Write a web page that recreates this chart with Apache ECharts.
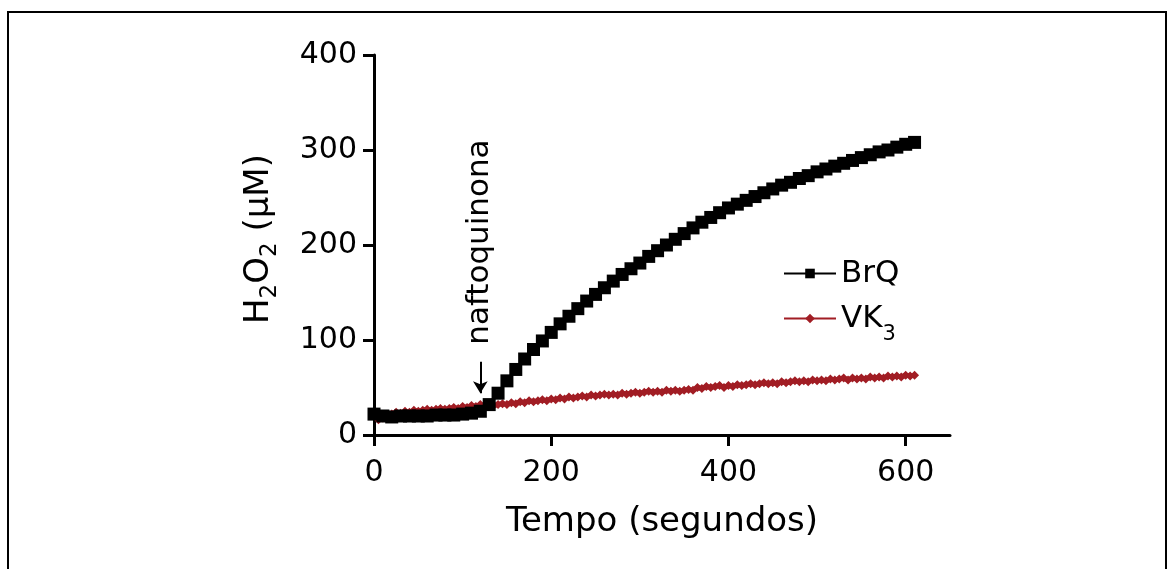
<!DOCTYPE html>
<html><head><meta charset="utf-8">
<script src="https://cdn.jsdelivr.net/npm/echarts@6/dist/echarts.min.js"></script>
<style>html,body{margin:0;padding:0;background:#fff}#c{width:1171px;height:569px}</style>
</head><body><div id="c"></div>
<script>
// ---- data ----
const brqTime = [0,10,20,30,40,50,60,70,80,90,100,110,120,130,140,150,160,170,180,190,200,210,220,230,240,250,260,270,280,290,300,310,320,330,340,350,360,370,380,390,400,410,420,430,440,450,460,470,480,490,500,510,520,530,540,550,560,570,580,590,600,610];
const brqValues = [22,20,19,20,20,20,20,21,21,21,22,23,25,32,44,57,69,80,90,99,108,117,125,133,141,148,155,162,169,175,181,188,194,200,206,212,218,224,229,234,239,243,247,251,255,259,263,266,270,273,277,280,283,286,289,292,295,298,300,303,306,308];
const vkTime = [5,10,15,20,25,30,35,40,45,50,55,60,65,70,75,80,85,90,95,100,105,110,115,120,125,130,135,140,145,150,155,160,165,170,175,180,185,190,195,200,205,210,215,220,225,230,235,240,245,250,255,260,265,270,275,280,285,290,295,300,305,310,315,320,325,330,335,340,345,350,355,360,365,370,375,380,385,390,395,400,405,410,415,420,425,430,435,440,445,450,455,460,465,470,475,480,485,490,495,500,505,510,515,520,525,530,535,540,545,550,555,560,565,570,575,580,585,590,595,600,605,610];
const vkValues = [16,18,21,22,24,23,25,24,26,25,26,27,26,27,28,27,28,29,28,30,29,31,30,32,31,33,31,32,33,32,34,33,35,34,36,35,36,37,36,38,37,39,38,40,39,40,41,40,42,41,42,43,42,43,42,44,43,44,45,44,45,46,45,46,45,47,46,47,46,47,48,47,50,49,51,50,51,52,50,52,51,53,52,53,54,53,54,55,54,55,54,56,55,56,57,56,57,56,58,57,58,57,59,58,59,60,58,60,59,60,59,61,60,61,60,62,61,62,61,63,62,63];
const xTicks = [0,200,400,600];
const yTicks = [0,100,200,300,400];
const seriesNames = ['BrQ','VK3'];
const xTitle = 'Tempo (segundos)';
const annotationText = 'naftoquinona';
const arrowFrom = [120, 77];
const arrowTo = [120, 44];
const annotationAnchor = [120, 95];

// ---- chart ----
const FONT = 'DejaVu Sans';
const chart = echarts.init(document.getElementById('c'), null, {renderer:'canvas'});
const zip = (a,b) => a.map((v,i)=>[v,b[i]]);
const option = {
  animation:false,
  backgroundColor:'#fff',
  grid:{left:374, top:55, right:221, bottom:134, containLabel:false},
  xAxis:{type:'value', min:0, max:650,
    axisLine:{show:true, onZero:false, lineStyle:{color:'#000', width:3}},
    axisTick:{show:true, length:11, customValues:xTicks, lineStyle:{color:'#000', width:3}},
    axisLabel:{customValues:xTicks, margin:23, color:'#000', fontFamily:FONT, fontSize:30},
    splitLine:{show:false},
    name:xTitle, nameLocation:'middle', nameGap:70,
    nameTextStyle:{color:'#000', fontFamily:FONT, fontSize:34}
  },
  yAxis:{type:'value', min:0, max:400, interval:100,
    axisLine:{show:true, lineStyle:{color:'#000', width:3}},
    axisTick:{show:true, length:11, lineStyle:{color:'#000', width:3}},
    axisLabel:{margin:17, color:'#000', fontFamily:FONT, fontSize:30},
    splitLine:{show:false},
    name:'{n|H}{s|2}{n|O}{s|2}{n| (μM)}', nameLocation:'middle', nameGap:98, nameRotate:90,
    nameTextStyle:{color:'#000', fontFamily:FONT, fontSize:34, padding:[0,0,0,12],
      rich:{n:{fontFamily:FONT, fontSize:34, color:'#000', verticalAlign:'bottom', lineHeight:40},
            s:{fontFamily:FONT, fontSize:23, color:'#000', verticalAlign:'bottom', lineHeight:40, padding:[0,0,-6,0]}}}
  },
  legend:{orient:'vertical', left:778, top:253, itemWidth:52, itemHeight:12, itemGap:14,
    data:seriesNames,
    formatter:n => n === 'VK3' ? '{n|VK}{s|3}' : '{n|BrQ}',
    textStyle:{color:'#000', fontFamily:FONT, fontSize:31,
      rich:{n:{fontFamily:FONT, fontSize:31, color:'#000', lineHeight:38},
            s:{fontFamily:FONT, fontSize:21, color:'#000', lineHeight:38, verticalAlign:'bottom', padding:[0,0,-8,0]}}}
  },
  series:[
    {name:'VK3', type:'line', data:zip(vkTime, vkValues), z:2,
      symbol:'diamond', symbolSize:9, showSymbol:true,
      itemStyle:{color:'#a11d24'}, lineStyle:{color:'#a11d24', width:5}},
    {name:'BrQ', type:'line', data:zip(brqTime, brqValues), z:3,
      symbol:'rect', symbolSize:13, showSymbol:true,
      itemStyle:{color:'#000'}, lineStyle:{color:'#000', width:2},
      markLine:{silent:true, symbol:['none','arrow'], symbolSize:[11,12],
        lineStyle:{color:'#000', width:2, type:'solid'}, label:{show:false},
        data:[[{coord:arrowFrom},{coord:arrowTo}]]}}
  ]
};
chart.setOption(option);
const p = chart.convertToPixel({gridIndex:0}, annotationAnchor);
chart.setOption({graphic:[
  {type:'rect', shape:{x:8, y:12, width:1158, height:600}, style:{fill:null, stroke:'#000', lineWidth:2}, silent:true},
  {type:'text', x:p[0], y:p[1], rotation:Math.PI/2,
    style:{text:annotationText, fill:'#000', font:'31px "DejaVu Sans"', align:'left', verticalAlign:'middle'}}
]});
</script></body></html>
